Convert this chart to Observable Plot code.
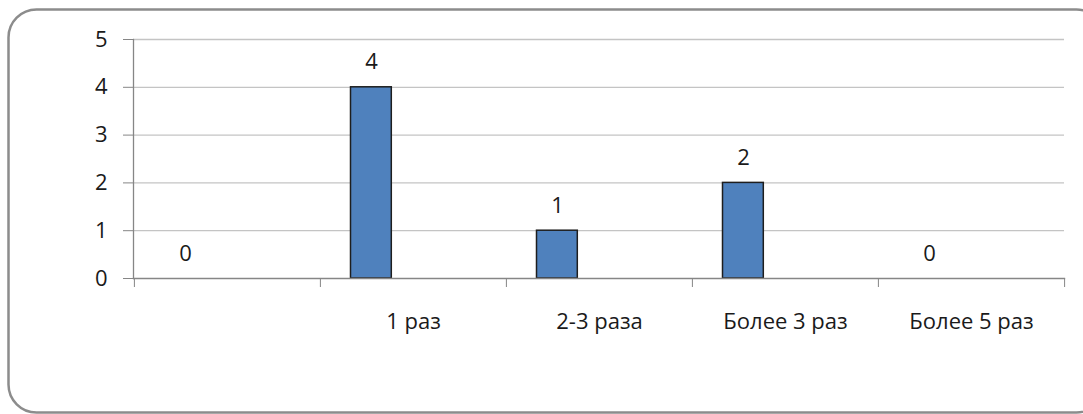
<!DOCTYPE html>
<html>
<head>
<meta charset="utf-8">
<script src="https://cdn.jsdelivr.net/npm/d3@7"></script>
<script src="https://cdn.jsdelivr.net/npm/@observablehq/plot@0.6"></script>
<style>
  html, body { margin: 0; padding: 0; background: white; overflow: hidden; }
</style>
</head>
<body>
<div id="chart"></div>
<script>
const categories = ["", "1 раз", "2-3 раза", "Более 3 раз", "Более 5 раз"];
const values = [0, 4, 1, 2, 0];
const yTicks = [0, 1, 2, 3, 4, 5];

const data = categories.map((c, i) => ({category: c, value: values[i]}));

const chart = Plot.plot({
  width: 1083,
  height: 414,
  marginLeft: 133,
  marginRight: 19,
  marginTop: 39,
  marginBottom: 136,
  style: {fontFamily: "'Open Sans', sans-serif", fontSize: "22px", color: "#1a1a1a", background: "white"},
  x: {type: "band", domain: categories, padding: 0},
  y: {domain: [0, 5]},
  marks: [
    Plot.frame({rx: 28, stroke: "#8c8c8c", strokeWidth: 2.5, insetLeft: -125, insetTop: -30, insetRight: -40, insetBottom: -134}),
    Plot.gridY(yTicks.slice(1), {stroke: "#c4c4c4", strokeOpacity: 1, strokeWidth: 1.3}),
    Plot.barY(data, {x: "category", y: "value", fill: "#4f81bd", stroke: "#1e1e1e", strokeWidth: 1.5, insetLeft: 30.5, insetRight: 114.7}),
    Plot.text(data, {x: "category", y: "value", text: d => String(d.value), dx: -42, dy: -25, fontSize: 22, fill: "#1a1a1a"}),
    Plot.axisY({ticks: yTicks, tickSize: 10, tickPadding: 16, stroke: "#868686", label: null, fontSize: 22, tickFormat: d => String(d)}),
    Plot.frame({anchor: "left", stroke: "#868686", strokeWidth: 1.3}),
    Plot.frame({anchor: "bottom", stroke: "#868686", strokeWidth: 1.3}),
    Plot.axisX({tickSize: 0, tickPadding: 35, label: null, fontSize: 22, letterSpacing: "0.4px"}),
    Plot.axisX({ticks: categories, tickFormat: () => "", tickSize: 9, dx: -93.1, stroke: "#868686", label: null}),
    Plot.axisX({ticks: [categories[4]], tickFormat: () => "", tickSize: 9, dx: 93.1, stroke: "#868686", label: null})
  ]
});
document.getElementById("chart").appendChild(chart);
</script>
</body>
</html>
